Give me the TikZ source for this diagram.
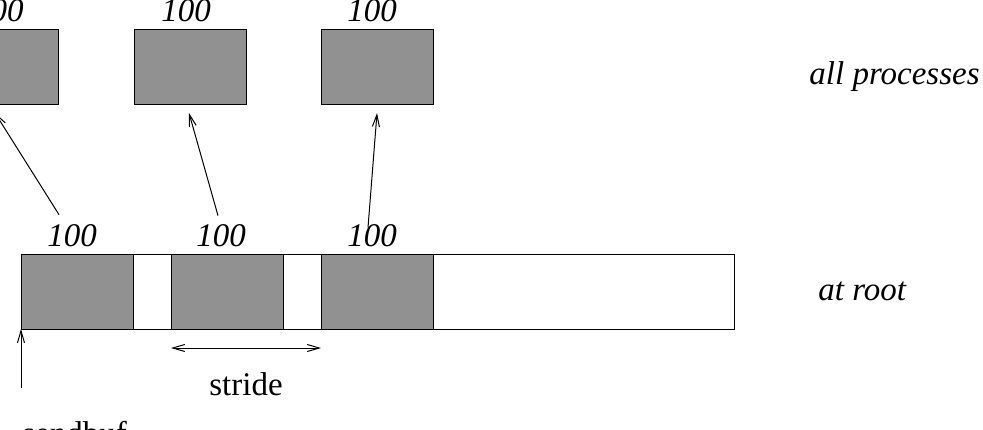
\documentclass[tikz,border=0pt]{standalone}
\usepackage{fontspec}
\setmainfont{Liberation Serif}
\usetikzlibrary{arrows.meta}
\definecolor{blockgray}{RGB}{145,145,145}

\begin{document}
\begin{tikzpicture}[
  x=0.5pt, y=-0.5pt,
  box/.style={
    draw, line width=0.5pt, inner sep=0pt, outer sep=0pt,
    minimum width=56pt, minimum height=37.5pt,
  },
  block/.style={box, fill=blockgray},
  buffer/.style={box, fill=white, minimum width=356.5pt},
  count/.style={inner sep=0pt, anchor=base, font=\fontsize{16.5}{19}\selectfont\itshape},
  tag/.style={inner sep=0pt, anchor=base west, font=\fontsize{16.5}{19}\selectfont\itshape},
  word/.style={inner sep=0pt, anchor=base, font=\fontsize{16.5}{19}\selectfont},
  flow/.style={-{Straight Barb[length=6pt, width=3.5pt]}, line width=0.5pt},
  span/.style={{Straight Barb[length=6pt, width=3.5pt]}-{Straight Barb[length=6pt, width=3.5pt]}, line width=0.5pt},
]
\useasboundingbox (0,0) rectangle (983,429);

% ---- Receive buffers on all processes --------------------------------------
\node[block] (proc1) at (  2, 66.5) {};
\node[block] (proc2) at (190, 66.5) {};
\node[block] (proc3) at (377, 66.5) {};
\node[count] (top1) at ( -1, 21) {100};
\node[count] (top2) at (186, 21) {100};
\node[count] (top3) at (372, 21) {100};
\node[tag] (allproc) at (809, 84) {all processes};

% ---- Send buffer at root ---------------------------------------------------
\node[buffer] (buf) at (377.5, 291.5) {};
\node[block] (blk1) at ( 77, 291.5) {};
\node[block] (blk2) at (227, 291.5) {};
\node[block] (blk3) at (377, 291.5) {};
\node[count] (cnt1) at ( 72, 246) {100};
\node[count] (cnt2) at (221, 246) {100};
\node[count] (cnt3) at (372, 246) {100};
\node[tag] (root) at (818, 300) {at root};

% ---- Scatter: each block goes to one process -------------------------------
\draw[flow] ([xshift=-6.5pt, yshift=4.5pt]cnt1.north) -- ([xshift=-3.5pt, yshift=-4.5pt]proc1.south);
\draw[flow] ([xshift=-1.5pt, yshift=4pt]cnt2.north) -- ([xshift=-0.5pt, yshift=-4.5pt]proc2.south);
\draw[flow] ([xshift=-2pt, yshift=-2pt]cnt3.north) -- ([yshift=-4.5pt]proc3.south);

% ---- Stride and start of the send buffer -----------------------------------
\draw[span] ([yshift=-9.5pt]blk2.south west) -- ([yshift=-9.5pt]blk3.south west);
\node[word] (stride) at (246, 395) {stride};
\node[word, anchor=base west] (sendbuf) at (22, 444) {sendbuf};
\draw[flow, shorten <=16pt] (sendbuf.north -| buf.south west) -- (buf.south west);

\end{tikzpicture}
\end{document}
